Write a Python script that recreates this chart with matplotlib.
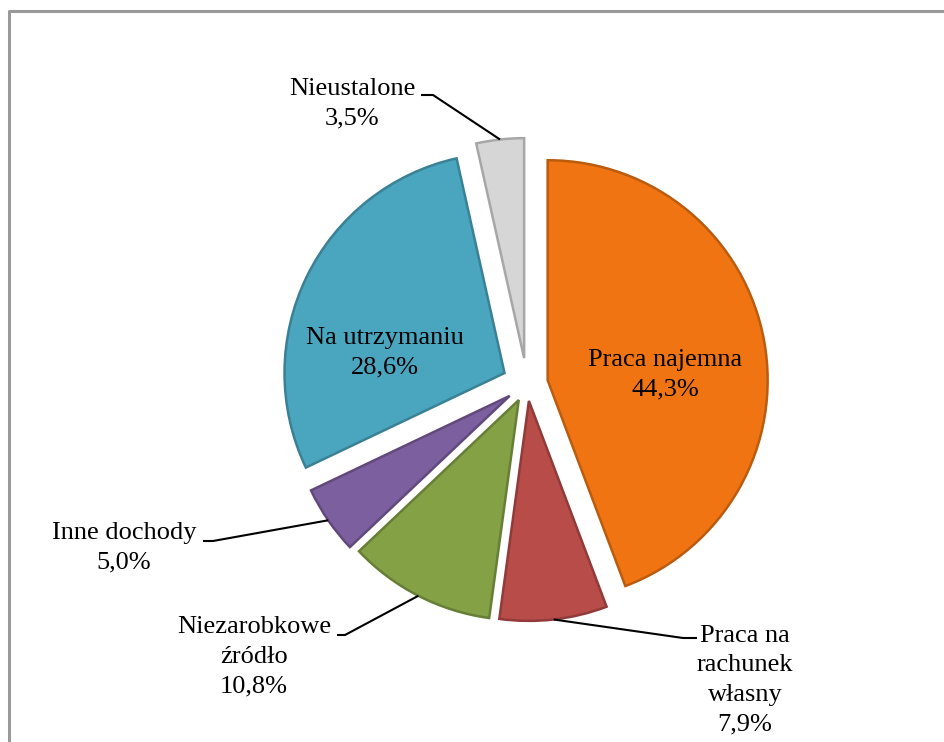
"""Struktura ludności według głównego źródła utrzymania - wykres kołowy."""
from matplotlib import pyplot as plt
import matplotlib.colors as mcolors
import numpy as np

# dane
labels = ["Praca najemna", "Praca na\nrachunek\nwłasny", "Niezarobkowe\nźródło",
          "Inne dochody", "Na utrzymaniu", "Nieustalone"]
shares = [44.3, 7.9, 10.8, 5.0, 28.6, 3.5]
colors = ["#F07512", "#B84C49", "#84A145", "#7C5F9E", "#4AA5BF", "#D6D6D6"]

plt.rcParams["font.family"] = ["Liberation Serif", "DejaVu Serif"]

W, H = 945, 742
CENTER = (527, 358)
R = 220
# odsunięcie wycinków w pikselach
explode = [21, 17, 18, 21, 25, 26]

fig = plt.figure(figsize=(W / 100, H / 100), dpi=100)
ax = fig.add_axes([0, 0, 1, 1])

wedges, _ = ax.pie(shares, colors=colors, explode=explode, startangle=90,
                   counterclock=False, center=CENTER, radius=R,
                   wedgeprops=dict(linewidth=1.8))
for w, c in zip(wedges, colors):
    w.set_edgecolor(np.array(mcolors.to_rgb(c)) * 0.78)

ax.set_xlim(0, W)
ax.set_ylim(0, H)
ax.set_aspect("equal")
ax.axis("off")


def fmt(v):
    return f"{v:.1f}%".replace(".", ",")


def anchor(w):
    mid = np.deg2rad((w.theta1 + w.theta2) / 2)
    cx, cy = w.center
    return cx + w.r * np.cos(mid), cy + w.r * np.sin(mid)


FS = 19
LS = 1.45
# etykiety wewnątrz
inside = {0: (665, 367), 4: (385, 389)}
for i, pos in inside.items():
    ax.text(pos[0], pos[1], f"{labels[i]}\n{fmt(shares[i])}", ha="center",
            va="center", fontsize=FS, linespacing=LS)

# etykiety zewnętrzne: (pozycja tekstu, kolano, koniec linii)
outside = {
    5: ((352, 638), (433, 647), (421, 647)),
    3: ((124, 194), (213, 201), (203, 201)),
    2: ((254, 85), (345, 107), (337, 107)),
    1: ((745, 62), (683, 104), (697, 104)),
}
for i, (tpos, knee, end) in outside.items():
    ax.text(tpos[0], tpos[1], f"{labels[i]}\n{fmt(shares[i])}", ha="center",
            va="center", fontsize=FS, linespacing=LS)
    a = anchor(wedges[i])
    ax.plot([a[0], knee[0], end[0]], [a[1], knee[1], end[1]],
            color="black", lw=1.5, solid_capstyle="butt")

# ramka wykresu
ax.plot([8.5, 8.5, W + 5], [-5, H - 11, H - 11], color="#999999", lw=2.2,
        clip_on=False)

fig.savefig("out.png", dpi=100, facecolor="white")
